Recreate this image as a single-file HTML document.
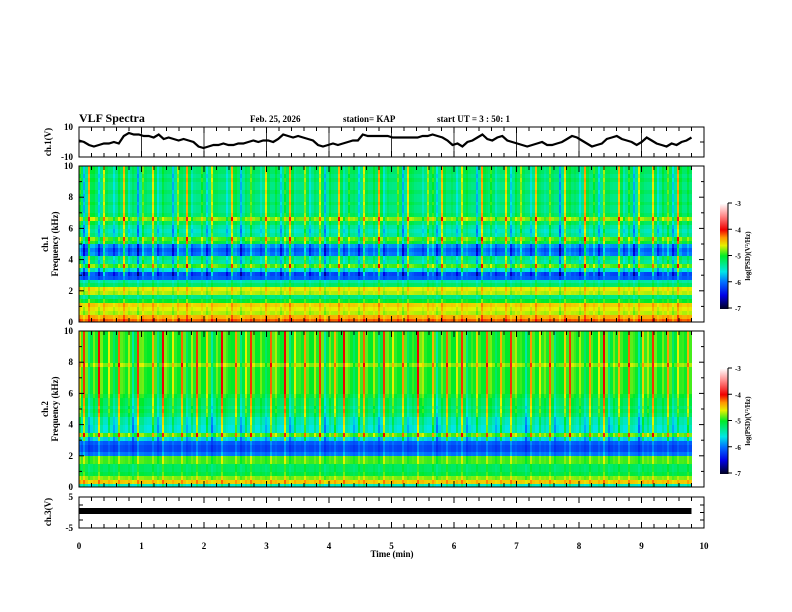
<!DOCTYPE html>
<html><head><meta charset="utf-8"><style>
body{margin:0;background:#fff;width:792px;height:612px;overflow:hidden;position:relative;font-family:"Liberation Serif",serif;}
canvas{position:absolute;image-rendering:pixelated;}
svg{position:absolute;left:0;top:0;}
</style></head><body>
<canvas id="spec1" width="613" height="156" style="left:79px;top:166px;width:613px;height:156px"></canvas>
<canvas id="spec2" width="613" height="156" style="left:79px;top:331px;width:613px;height:156px"></canvas>
<canvas id="cb1" width="8" height="106" style="left:720px;top:203px;width:8px;height:106px"></canvas>
<canvas id="cb2" width="8" height="106" style="left:720px;top:368px;width:8px;height:106px"></canvas>
<svg id="ov" width="792" height="612"></svg>
<script>
// ---- data ----
const freqProfile1=[-4.2,-4.4,-4.7,-4.6,-4.5,-5.0,-5.3,-4.7,-4.6,-5.2,-5.4,-6.1,-6.2,-5.6,-4.9,-5.4,-5.3,-6.0,-6.1,-5.9,-5.1,-4.9,-5.4,-5.5,-5.4,-5.2,-4.8,-5.2,-5.3,-5.3,-5.2,-5.3,-5.3,-5.2,-5.3,-5.3,-5.2,-5.3,-5.2,-5.2];
const freqProfile2=[-5.5,-4.5,-4.8,-5.1,-5.2,-5.2,-4.9,-4.9,-6.0,-6.2,-6.2,-6.1,-5.7,-4.9,-5.6,-5.6,-5.5,-5.5,-5.3,-5.2,-5.3,-5.2,-5.2,-5.1,-5.0,-5.0,-5.0,-5.0,-5.0,-5.0,-5.0,-4.8,-5.0,-5.0,-5.0,-5.0,-5.0,-5.0,-5.0,-5.0];
const timeOffset1=[0.3,-0.5,0.9,0.2,-0.4,0.6,0,-0.3,0.2,0.8,-0.2,0.1,-0.6,0.4,0,0.7,-0.3,0.2,0,-0.5,0.5,0.1,0.9,-0.2,0,0.3,-0.4,0.6,0.1,0,-0.3,0.8,0.2,-0.5,0.1,0.4,0,-0.2,0.7,0,0.2,-0.4,0.3,0.9,-0.1,0,0.5,-0.3,0.1,0.6,-0.5,0.2,0,0.8,-0.2,0.3,0.1,-0.4,0.6,0,0.2,0.9,-0.3,0.1,0,0.4,-0.5,0.7,0.1,0,-0.2,0.5,0.3,-0.4,0.8,0,0.1,-0.3,0.6,0.2,0,-0.5,0.9,0.1,0.3,-0.2,0,0.7,-0.4,0.2,0.5,0,-0.3,0.8,0.1,-0.1,0.4,0,-0.6,0.7,0.2,0.1,-0.3,0.9,0,0.3,-0.4,0.5,0.1,0,0.8,-0.2,0.3,-0.5,0.6,0.1,0,0.7,-0.3,0.2,0.4,-0.4,0.9,0,0.2];
const timeOffset2=[0.5,0.9,-0.3,0.2,1.0,0,0.4,-0.2,0.8,0.1,0.3,-0.4,0.9,0.2,0,0.6,-0.3,1.0,0.1,0.4,0,0.8,-0.2,0.3,0.9,0,0.5,-0.4,0.2,1.0,0.1,0,0.7,-0.3,0.4,0.9,0,0.2,-0.2,0.8,0.3,0,1.0,-0.3,0.4,0.1,0.7,0,0.3,0.9,-0.4,0.2,0.6,0,1.0,0.1,-0.2,0.5,0.8,0,0.3,-0.3,0.9,0.2,0.4,0,0.7,-0.2,0.1,1.0,0.3,0,0.6,-0.4,0.2,0.8,0,0.4,0.9,-0.3,0.1,0.5,0,0.8,0.2,-0.2,0.6,0,0.9,0.3,0.1,-0.4,0.7,0,0.4,0.2,0.8,-0.3,0,0.5,0.9,0.1,0.3,-0.2,0.7,0,0.4,1.0,-0.3,0.2,0.6,0,0.8,0.1,-0.4,0.5,0.3,0.9,0,0.2,0.7,-0.2,0.4,0.1,0.6];
const waveform1=[1,0,-2,-3,-2,-1,-1,0,-1,4,6,5,5,4,4,3,5,2,3,2,1,2,1,0,-3,-4,-3,-2,-2,-1,-2,-2,-1,-1,0,1,0,1,1,0,2,5,4,3,4,3,2,1,-2,-3,-2,-1,-2,-1,0,1,1,5,4,4,4,4,4,3,3,3,3,3,3,4,4,5,4,3,1,-2,-1,-3,0,1,3,5,2,1,3,4,1,0,-1,-2,-3,-2,-1,0,-2,-2,-1,0,2,4,3,1,-1,-3,-2,-1,2,3,4,2,1,0,-2,0,3,1,-1,-2,-3,-1,-2,0,1,3];
const xTicks=[0,1,2,3,4,5,6,7,8,9,10];
const freqTicks=[0,2,4,6,8,10];
const cbTicks=[-3,-4,-5,-6,-7];
// ---- scales ----
const X0=79,PX=62.5,TMAX=9.8;
const xs=t=>X0+t*PX;
const stops=[[-7,[0,0,40]],[-6.5,[0,0,230]],[-6,[0,110,255]],[-5.6,[0,230,230]],[-5,[0,235,40]],[-4.6,[230,240,0]],[-4.3,[255,150,0]],[-4,[240,0,0]],[-3.5,[255,130,130]],[-3,[255,255,255]]];
function cmap(v){v=Math.max(-7,Math.min(-3,v));for(let i=1;i<stops.length;i++){if(v<=stops[i][0]){const a=stops[i-1],b=stops[i],f=(v-a[0])/(b[0]-a[0]);return a[1].map((c,k)=>Math.round(c+(b[1][k]-c)*f));}}return stops[stops.length-1][1];}
function drawSpec(id,prof,off){const c=document.getElementById(id),g=c.getContext('2d');const nt=off.length,nf=prof.length,W=c.width,H=c.height;
for(let i=0;i<nt;i++){const x0=Math.floor(i*W/nt),x1=Math.floor((i+1)*W/nt);
for(let px=x0;px<x1;px++){const k=(px-x0)<2?1.0:0.2;
for(let j=0;j<nf;j++){const f=(j+0.5)*10/nf;const w=f>3?1:0.3;const v=prof[j]+off[i]*w*k;const col=cmap(v);g.fillStyle=`rgb(${col})`;const y1=H-Math.floor(j*H/nf),y0=H-Math.floor((j+1)*H/nf);g.fillRect(px,y0,1,y1-y0);}}}}
drawSpec('spec1',freqProfile1,timeOffset1);drawSpec('spec2',freqProfile2,timeOffset2);
function drawCb(id){const c=document.getElementById(id),g=c.getContext('2d');for(let y=0;y<c.height;y++){const v=-3-4*y/(c.height-1);g.fillStyle=`rgb(${cmap(v)})`;g.fillRect(0,y,c.width,1);}}
drawCb('cb1');drawCb('cb2');
// ---- overlay ----
const NS='http://www.w3.org/2000/svg',ov=document.getElementById('ov');
function el(tag,at,txt){const e=document.createElementNS(NS,tag);for(const k in at)e.setAttribute(k,at[k]);if(txt!==undefined)e.textContent=txt;ov.appendChild(e);return e;}
function txt(x,y,s,sz,anchor,name,rot){const e=el('text',{x:x,y:y,'font-size':sz,'font-weight':'bold','text-anchor':anchor||'start','font-family':'Liberation Serif, serif'},s);if(rot)e.setAttribute('transform',`rotate(-90 ${x} ${y})`);

return e;}
txt(79,122,'VLF Spectra',12,'start','title');
txt(250,122,'Feb. 25, 2026',9,'start','date-label');
txt(343,122,'station= KAP',9,'start','station-label');
txt(437,122,'start  UT =   3  : 50: 1',9,'start','start-time-label');
const panels=[{t:127,b:157,name:'ch1-panel'},{t:166,b:322,name:'ch1-spec-panel'},{t:331,b:487,name:'ch2-spec-panel'},{t:497,b:528,name:'ch3-panel'}];
panels.forEach(p=>{const r=el('rect',{x:X0,y:p.t,width:625,height:p.b-p.t,fill:'none',stroke:'#000','stroke-width':1});


for(let t=0;t<=10.001;t+=0.2){const x=xs(t),maj=Math.abs(t-Math.round(t))<0.01,L=maj?6:4;
el('line',{x1:x,y1:p.t,x2:x,y2:p.t+L,stroke:'#000'});el('line',{x1:x,y1:p.b,x2:x,y2:p.b-L,stroke:'#000'});}});
xTicks.forEach(t=>{if(t>0&&t<10)el('line',{x1:xs(t),y1:127,x2:xs(t),y2:157,stroke:'#000','stroke-width':0.8});});
const wy=v=>142-v*15/10;let d='';waveform1.forEach((v,i)=>{const x=xs(i*TMAX/(waveform1.length-1));d+=(i?'L':'M')+x.toFixed(1)+' '+wy(v).toFixed(1);});
const wl=el('path',{d:d,fill:'none',stroke:'#000','stroke-width':2.2});


const b3=el('rect',{x:X0,y:508,width:TMAX*PX,height:6,fill:'#000'});


[[166,322],[331,487]].forEach(([t,b])=>{for(let f=0;f<=10;f++){const y=b-f*(b-t)/10,L=f%2?3:5;el('line',{x1:X0,y1:y,x2:X0+L,y2:y,stroke:'#000'});el('line',{x1:704,y1:y,x2:704-L,y2:y,stroke:'#000'});}
freqTicks.forEach(f=>txt(73,b-f*(b-t)/10+3,String(f),9,'end','freq-tick-label'));});
txt(73,130,'10',9,'end','ch1-ytick');txt(73,160,'-10',9,'end','ch1-ytick');
[127,142,157].forEach(y=>{el('line',{x1:X0,y1:y,x2:X0+4,y2:y,stroke:'#000'});el('line',{x1:704,y1:y,x2:700,y2:y,stroke:'#000'});});
txt(73,500,'5',9,'end','ch3-ytick');txt(73,531,'-5',9,'end','ch3-ytick');
[497,505,512.5,520,528].forEach(y=>{el('line',{x1:X0,y1:y,x2:X0+4,y2:y,stroke:'#000'});el('line',{x1:704,y1:y,x2:700,y2:y,stroke:'#000'});});
xTicks.forEach(t=>txt(xs(t),549,String(t),9,'middle','x-tick-label'));
txt(392,557,'Time  (min)',9,'middle','x-axis-title');
txt(51,142,'ch.1(V)',9,'middle','ch1-y-title',1);
txt(48,244,'ch.1',9,'middle','ch1-spec-label',1);txt(58,244,'Frequency  (kHz)',9,'middle','ch1-freq-title',1);
txt(48,409,'ch.2',9,'middle','ch2-spec-label',1);txt(58,409,'Frequency  (kHz)',9,'middle','ch2-freq-title',1);
txt(51,512,'ch.3(V)',9,'middle','ch3-y-title',1);
[203,368].forEach(top=>{cbTicks.forEach((v,i)=>{const y=top+i*105/4;el('line',{x1:728,y1:y,x2:732,y2:y,stroke:'#000'});txt(735,y+3,String(v),7,'start','colorbar-tick');});
el('line',{x1:728,y1:top,x2:728,y2:top+106,stroke:'#000'});
txt(750,top+53,'log(PSD)(V²/Hz)',7,'middle','colorbar-title',1);});
</script>
</body></html>
